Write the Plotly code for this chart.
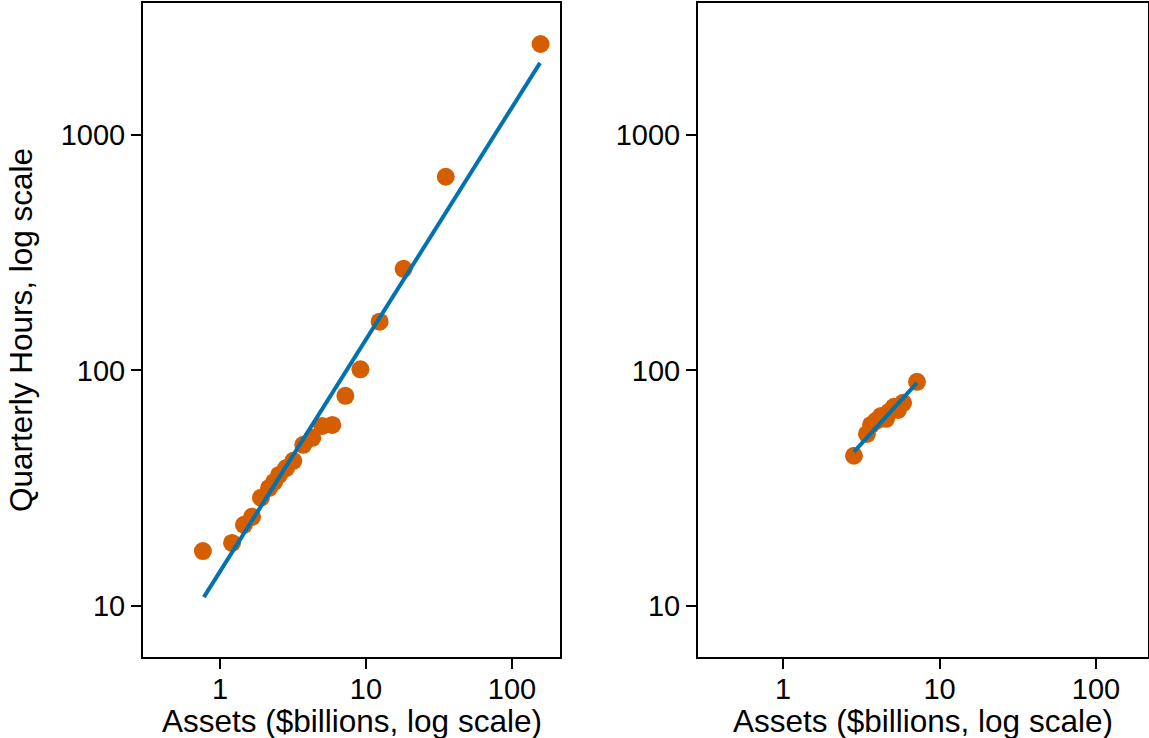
import plotly.graph_objects as go

# ---- data ----
left_assets = [0.764, 1.21, 1.46, 1.66, 1.91, 2.17, 2.35, 2.54, 2.84, 3.18,
               3.72, 4.29, 5.02, 5.88, 7.23, 9.16, 12.4, 18.1, 35.2, 157]
left_hours = [17.1, 18.5, 22.1, 23.9, 28.8, 31.7, 33.6, 36.0, 38.5, 41.3,
              48.3, 51.7, 58.1, 58.7, 78, 101, 161, 270, 664, 2432]
left_fit_assets = [0.776, 155.7]
left_fit_hours = [10.9, 2023]

right_assets = [2.84, 3.44, 3.65, 3.93, 4.23, 4.55, 4.76, 5.12, 5.43, 5.85, 7.18]
right_hours = [43.4, 53.7, 58.7, 61.1, 64.1, 62.3, 66.7, 70.0, 67.9, 72.8, 89.4]
right_fit_assets = [2.84, 7.18]
right_fit_hours = [45.1, 88.5]

x_tickvals = [1, 10, 100]
x_ticktext = ["1", "10", "100"]
y_tickvals = [10, 100, 1000]
y_ticktext = ["10", "100", "1000"]

x_title = "Assets ($billions, log scale)"
y_title = "Quarterly Hours, log scale"

ORANGE = "#D55E00"
BLUE = "#0072B2"
FONT = "Liberation Sans, Arial, Helvetica, sans-serif"
TICK_FS = 29
TITLE_FS = 31.5

W, H = 1149, 738

def px_x(p):
    return min(1.0, max(0.0, p / W))

def px_y(p):
    return min(1.0, max(0.0, 1 - p / H))

fig = go.Figure()
fig.add_trace(go.Scatter(x=left_assets, y=left_hours, mode="markers",
                         marker=dict(color=ORANGE, size=18, line=dict(width=0)),
                         xaxis="x", yaxis="y", showlegend=False))
fig.add_trace(go.Scatter(x=left_fit_assets, y=left_fit_hours, mode="lines",
                         line=dict(color=BLUE, width=4),
                         xaxis="x", yaxis="y", showlegend=False))
fig.add_trace(go.Scatter(x=right_assets, y=right_hours, mode="markers",
                         marker=dict(color=ORANGE, size=18, line=dict(width=0)),
                         xaxis="x2", yaxis="y2", showlegend=False))
fig.add_trace(go.Scatter(x=right_fit_assets, y=right_fit_hours, mode="lines",
                         line=dict(color=BLUE, width=4),
                         xaxis="x2", yaxis="y2", showlegend=False))

common_axis = dict(type="log", ticks="outside", ticklen=10, tickwidth=1.5,
                   tickcolor="black", showline=True, linecolor="black", linewidth=2,
                   mirror=True, showgrid=False, zeroline=False,
                   tickfont=dict(family=FONT, size=TICK_FS, color="black"),
                   automargin=False)
common_x = dict(tickvals=x_tickvals, ticktext=x_ticktext, ticklabelstandoff=-5,
                **common_axis)
common_y = dict(range=[0.783, 3.56], tickvals=y_tickvals, ticktext=y_ticktext,
                **common_axis)

ydom = [px_y(657), px_y(3)]
fig.update_layout(
    width=W, height=H,
    margin=dict(l=0, r=0, t=0, b=0, pad=0),
    paper_bgcolor="white", plot_bgcolor="white",
    font=dict(family=FONT, size=TICK_FS, color="black"),
    xaxis=dict(domain=[px_x(143), px_x(560)], anchor="y", range=[-0.527, 2.329], **common_x),
    yaxis=dict(domain=ydom, anchor="x", **common_y),
    xaxis2=dict(domain=[px_x(698), px_x(1148)], anchor="y2", range=[-0.543, 2.332], **common_x),
    yaxis2=dict(domain=ydom, anchor="x2", **common_y),
    annotations=[
        dict(text=x_title, xref="paper", yref="paper", x=px_x(352), y=px_y(721),
             xanchor="center", yanchor="middle", showarrow=False,
             font=dict(family=FONT, size=TITLE_FS, color="black")),
        dict(text=x_title, xref="paper", yref="paper", x=px_x(923), y=px_y(721),
             xanchor="center", yanchor="middle", showarrow=False,
             font=dict(family=FONT, size=TITLE_FS, color="black")),
        dict(text=y_title, xref="paper", yref="paper", x=px_x(21), y=px_y(330),
             xanchor="center", yanchor="middle", showarrow=False, textangle=-90,
             font=dict(family=FONT, size=TITLE_FS, color="black")),
    ],
)

# remove the browser's default 8px body margin so the figure sits at the window corner
fig.write_html("out.html",
               config={"displayModeBar": False},
               post_script="document.body.style.margin='0';document.body.style.overflow='hidden';")
